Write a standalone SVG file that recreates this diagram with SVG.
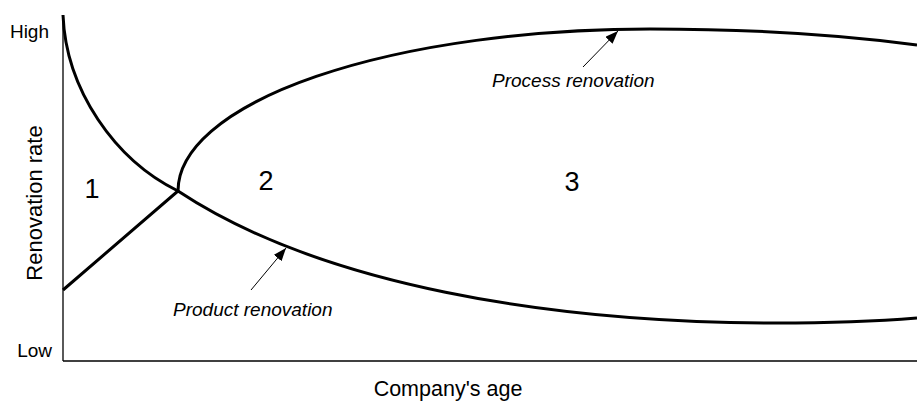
<svg xmlns="http://www.w3.org/2000/svg" width="917" height="401" viewBox="0 0 917 401">
<style>
text{font-family:"Liberation Sans",Arial,sans-serif;fill:#000}
.lbl{font-size:19px}
.num{font-size:27px;text-anchor:middle}
.it{font-size:19px;font-style:italic}
.curve{fill:none;stroke:#000;stroke-width:3}
.axis{fill:none;stroke:#000;stroke-width:1.3}
.ptr{fill:none;stroke:#000;stroke-width:1}
</style>
<defs>
<marker id="ah" markerUnits="userSpaceOnUse" markerWidth="14" markerHeight="10" refX="13" refY="5" orient="auto">
<path d="M0,0 L13,5 L0,10 Z" fill="#000"/>
</marker>
</defs>
<g id="axes">
<line class="axis" x1="63" y1="15" x2="63" y2="361"/>
<line class="axis" x1="63" y1="361" x2="917" y2="361"/>
<text class="lbl" x="49" y="38" text-anchor="end">High</text>
<text class="lbl" x="52" y="357" text-anchor="end">Low</text>
<text x="42" y="203" font-size="22" text-anchor="middle" transform="rotate(-90 42 203)">Renovation rate</text>
<text x="448" y="396" font-size="21.5" text-anchor="middle">Company's age</text>
</g>
<g id="product-curve">
<path class="curve" d="M63,15 C66,90 115,160 178,191 C320,285 550,323 776,323 C840,323 880,321 917,318"/>
<text class="it" x="173" y="316">Product renovation</text>
</g>
<g id="process-curve">
<path class="curve" d="M63,290 L178,191 A472,162 0 0 1 650,29 C760,29 850,36 917,45"/>
<text class="it" x="492" y="87">Process renovation</text>
</g>
<g id="regions">
<text class="num" x="92" y="198">1</text>
<text class="num" x="266" y="190">2</text>
<text class="num" x="572" y="191">3</text>
</g>
<g id="connectors">
<line class="ptr" x1="251" y1="290" x2="286" y2="248" marker-end="url(#ah)"/>
<line class="ptr" x1="583" y1="67" x2="618" y2="31" marker-end="url(#ah)"/>
</g>
</svg>
